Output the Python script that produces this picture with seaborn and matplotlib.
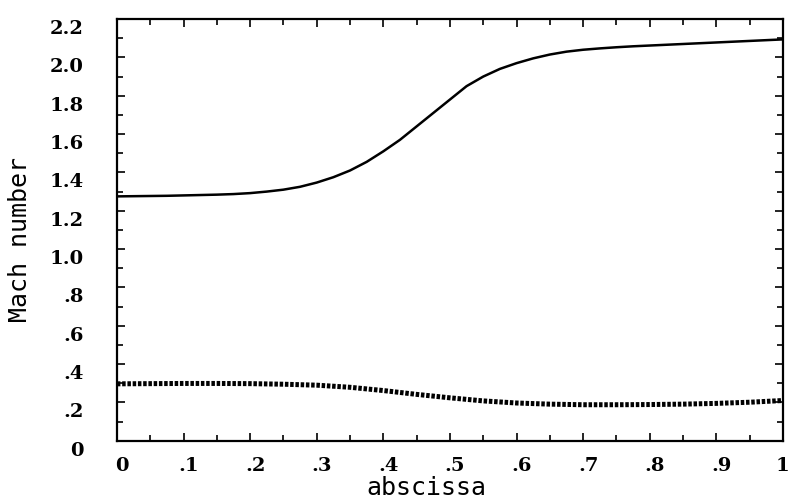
import numpy as np
import pandas as pd
import seaborn as sns
import matplotlib
matplotlib.use("Agg")
import matplotlib.pyplot as plt
from matplotlib.transforms import ScaledTranslation

# values
x_upper = [0.0, 0.025, 0.05, 0.075, 0.1, 0.125, 0.15, 0.175, 0.2, 0.225, 0.25,
           0.275, 0.3, 0.325, 0.35, 0.375, 0.4, 0.425, 0.45, 0.475, 0.5,
           0.525, 0.55, 0.575, 0.6, 0.625, 0.65, 0.675, 0.7, 0.725, 0.75,
           0.775, 0.8, 0.825, 0.85, 0.875, 0.9, 0.925, 0.95, 0.975, 1.0]
mach_upper = [1.275, 1.276, 1.277, 1.278, 1.280, 1.282, 1.284, 1.287, 1.292,
              1.300, 1.310, 1.325, 1.347, 1.375, 1.410, 1.455, 1.510, 1.570,
              1.640, 1.710, 1.780, 1.850, 1.900, 1.940, 1.970, 1.995, 2.015,
              2.030, 2.040, 2.047, 2.053, 2.058, 2.062, 2.066, 2.070, 2.074,
              2.078, 2.082, 2.086, 2.090, 2.094]

x_lower = [0.0, 0.05, 0.1, 0.15, 0.2, 0.25, 0.3, 0.35, 0.4, 0.45, 0.5,
           0.55, 0.6, 0.65, 0.7, 0.75, 0.8, 0.85, 0.9, 0.95, 1.0]
mach_lower = [0.297, 0.298, 0.299, 0.299, 0.298, 0.295, 0.290, 0.279, 0.262,
              0.242, 0.224, 0.208, 0.197, 0.191, 0.188, 0.188, 0.189, 0.191,
              0.195, 0.201, 0.210]

xticks = [0, .1, .2, .3, .4, .5, .6, .7, .8, .9, 1.0]
xticklabels = ["0", ".1", ".2", ".3", ".4", ".5", ".6", ".7", ".8", ".9", "1"]
yticks = [0, .2, .4, .6, .8, 1.0, 1.2, 1.4, 1.6, 1.8, 2.0, 2.2]
yticklabels = ["0", ".2", ".4", ".6", ".8", "1.0", "1.2", "1.4", "1.6", "1.8", "2.0", "2.2"]

up = pd.DataFrame({"abscissa": x_upper, "mach": mach_upper})
low = pd.DataFrame({"abscissa": x_lower, "mach": mach_lower})

sns.set_style("ticks")
fig = plt.figure(figsize=(7.9, 5.02), dpi=100)
ax = fig.add_axes([0.148, 0.12, 0.843, 0.84])

sns.lineplot(data=up, x="abscissa", y="mach", ax=ax, color="black", linewidth=1.8)
sns.lineplot(data=low, x="abscissa", y="mach", ax=ax, color="black", linewidth=3.6)
ax.lines[-1].set_linestyle((0, (0.7, 0.35)))

ax.set_xlim(0, 1)
ax.set_ylim(0, 2.2)
ax.set_xticks(xticks)
ax.set_xticklabels(xticklabels)
ax.set_yticks(yticks)
ax.set_yticklabels(yticklabels)
ax.set_xticks(np.arange(0.05, 1.0, 0.1), minor=True)
ax.set_yticks(np.arange(0.1, 2.2, 0.2), minor=True)

for s in ax.spines.values():
    s.set_linewidth(1.6)
    s.set_color("black")
    s.set_visible(True)

ax.tick_params(which="both", direction="in", top=True, right=True, color="black", width=1.2)
ax.tick_params(which="major", length=6)
ax.tick_params(which="minor", length=4)
ax.tick_params(axis="y", which="major", pad=24)
ax.tick_params(axis="x", which="major", pad=11)

for lab in ax.get_yticklabels() + ax.get_xticklabels():
    lab.set_fontfamily("DejaVu Serif")
    lab.set_fontweight("bold")
    lab.set_fontsize(14)
    lab.set_color("black")
for lab in ax.get_yticklabels():
    lab.set_transform(lab.get_transform() + ScaledTranslation(0, -0.07, fig.dpi_scale_trans))
for lab in ax.get_xticklabels()[:-1]:
    lab.set_transform(lab.get_transform() + ScaledTranslation(0.05, 0, fig.dpi_scale_trans))

ax.set_xlabel("abscissa", fontfamily="DejaVu Sans Mono", fontsize=18, color="black")
ax.set_ylabel("Mach number", fontfamily="DejaVu Sans Mono", fontsize=18, color="black")
ax.xaxis.label.set_va("center")
ax.yaxis.label.set_va("center")
ax.xaxis.set_label_coords(0.464, -0.11)
ax.yaxis.set_label_coords(-0.146, 0.479)

fig.savefig("out.png", dpi=100)
